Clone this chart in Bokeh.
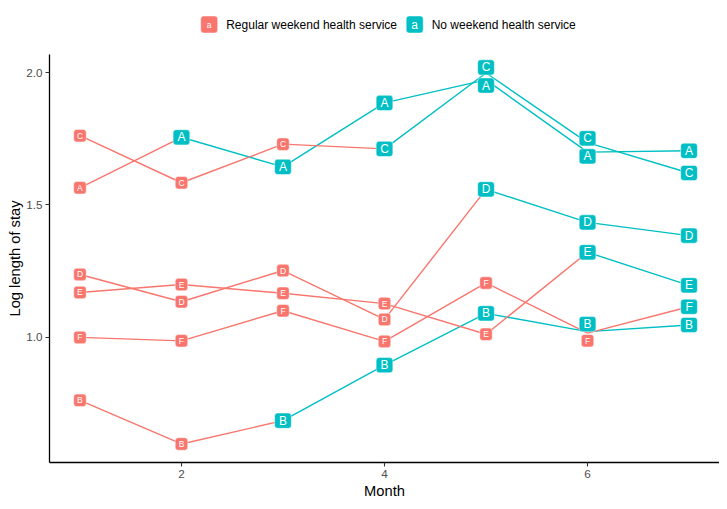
import numpy as np
from bokeh.plotting import figure
from bokeh.layouts import column
from bokeh.models import Range1d, FixedTicker, ColumnDataSource
from bokeh.embed import file_html
from bokeh.resources import INLINE
from bokeh.core.properties import value

# ---------------- data ----------------
months = [1, 2, 3, 4, 5, 6, 7]
hospitals = ["A", "B", "C", "D", "E", "F"]
los_A = [1.565, 1.756, 1.644, 1.886, 1.973, 1.700, 1.705]
los_B = [0.761, 0.596, 0.684, 0.894, 1.090, 1.021, 1.046]
los_C = [1.762, 1.584, 1.730, 1.712, 1.999, 1.736, 1.621]
los_D = [1.237, 1.134, 1.252, 1.067, 1.559, 1.434, 1.384]
los_E = [1.169, 1.199, 1.166, 1.127, 1.011, 1.321, 1.196]
los_F = [0.999, 0.986, 1.100, 0.984, 1.205, 1.015, 1.115]
# month from which each hospital has no weekend health service
no_service_from = [2, 3, 4, 5, 6, 7]
group_names = ["Regular weekend health service", "No weekend health service"]
x_ticks = [2, 4, 6]
y_ticks = [1.0, 1.5, 2.0]
y_tick_labels = ["1.0", "1.5", "2.0"]
x_title = "Month"
y_title = "Log length of stay"

series = [los_A, los_B, los_C, los_D, los_E, los_F]

# ---------------- style ----------------
FONT = "Liberation Sans"
COLS = ["#F8766D", "#00BFC4"]
BOX_W = [12.5, 16.7]
BOX_H = [12.5, 15.2]
TXT_SIZE = ["8.5px", "12px"]

W, H_LEG, H_MAIN = 719, 54, 447
MB_LEFT, MB_BOTTOM = 49, 36
frame_h = H_MAIN - MB_BOTTOM

# ggplot-like 5% expansion
xs = np.array(months, dtype=float)
allv = np.array(series).ravel()
xpad = 0.05 * (xs.max() - xs.min())
ypad = 0.05 * (allv.max() - allv.min())
x0r, x1r = xs.min() - xpad, xs.max() + xpad
y0r, y1r = allv.min() - ypad, allv.max() + ypad
ppu = frame_h / (y1r - y0r)

def group_of(h, m):
    return 1 if m >= no_service_from[h] else 0

p = figure(width=W, height=H_MAIN, x_range=Range1d(x0r, x1r), y_range=Range1d(y0r, y1r),
           output_backend="svg", toolbar_location=None,
           min_border_left=MB_LEFT, min_border_right=0, min_border_top=0,
           min_border_bottom=MB_BOTTOM)
p.frame_align = False
p.grid.visible = False
p.outline_line_color = None

# line segments, coloured by the group at the starting month
seg = dict(x0=[], y0=[], x1=[], y1=[], c=[])
for h, vals in enumerate(series):
    for i in range(len(months) - 1):
        seg["x0"].append(months[i]); seg["y0"].append(vals[i])
        seg["x1"].append(months[i + 1]); seg["y1"].append(vals[i + 1])
        seg["c"].append(COLS[group_of(h, months[i])])
p.segment(x0="x0", y0="y0", x1="x1", y1="y1", color="c", line_width=1.4,
          source=ColumnDataSource(seg))

# simple label repel per month (vertical only)
lab = {0: dict(x=[], y=[], t=[]), 1: dict(x=[], y=[], t=[])}
for i, m in enumerate(months):
    items = []
    for h, vals in enumerate(series):
        g = group_of(h, m)
        items.append([(vals[i] - y0r) * ppu, BOX_H[g], h, g])
    items.sort(key=lambda it: it[0])
    for _ in range(60):
        for a in range(len(items) - 1):
            lo, hi = items[a], items[a + 1]
            need = (lo[1] + hi[1]) / 2 + 3.0
            ov = need - (hi[0] - lo[0])
            if ov > 0:
                lo[0] -= ov / 2
                hi[0] += ov / 2
    for py, bh, h, g in items:
        lab[g]["x"].append(m)
        lab[g]["y"].append(y0r + py / ppu)
        lab[g]["t"].append(hospitals[h])

for g in (0, 1):
    src = ColumnDataSource(lab[g])
    p.rect(x="x", y="y", width=BOX_W[g], height=BOX_H[g], width_units="screen",
           height_units="screen", fill_color=COLS[g], line_color="white",
           line_alpha=0.6, line_width=0.8, border_radius=3, source=src)
    p.text(x="x", y="y", text="t", text_color="white", text_font=value(FONT),
           text_font_size=TXT_SIZE[g], text_align="center", text_baseline="middle",
           source=src)

# axes
for ax in (p.xaxis[0], p.yaxis[0]):
    ax.axis_line_color = "black"
    ax.axis_line_width = 1.3
    ax.major_tick_line_color = "#333333"
    ax.major_tick_line_width = 1.1
    ax.major_tick_out = 4
    ax.major_tick_in = 0
    ax.minor_tick_line_color = None
    ax.major_label_text_color = "#4D4D4D"
    ax.major_label_text_font = FONT
    ax.major_label_text_font_size = "11.7px"
    ax.axis_label_text_font = FONT
    ax.axis_label_text_font_size = "14.7px"
    ax.axis_label_text_font_style = "normal"
    ax.axis_label_text_color = "black"
    ax.major_label_standoff = 3
    ax.axis_label_standoff = 2
p.yaxis[0].axis_label_standoff = 0

p.xaxis[0].ticker = FixedTicker(ticks=x_ticks)
p.yaxis[0].ticker = FixedTicker(ticks=y_ticks)
p.yaxis[0].major_label_overrides = {t: s for t, s in zip(y_ticks, y_tick_labels)}
p.xaxis[0].axis_label = x_title
p.yaxis[0].axis_label = y_title

# ---------------- legend strip ----------------
leg = figure(width=W, height=H_LEG, x_range=Range1d(0, W), y_range=Range1d(H_LEG, 0),
             output_backend="svg", toolbar_location=None,
             x_axis_location=None, y_axis_location=None,
             min_border=0, min_border_left=0, min_border_right=0,
             min_border_top=0, min_border_bottom=0)
leg.frame_align = False
leg.grid.visible = False
leg.outline_line_color = None

key_x = [208.7, 414.2]
key_y = 24
leg.rect(x=key_x, y=[key_y, key_y], width=17, height=17, width_units="screen",
         height_units="screen", fill_color=COLS, line_color="white", line_alpha=0.6,
         line_width=0.8, border_radius=3)
for g in (0, 1):
    leg.text(x=[key_x[g]], y=[key_y], text=["a"], text_color="white",
             text_font=value(FONT), text_font_size=TXT_SIZE[g],
             text_align="center", text_baseline="middle")
    leg.text(x=[key_x[g] + 17], y=[key_y], text=[group_names[g]], text_color="black",
             text_font=value(FONT), text_font_size="12px",
             text_align="left", text_baseline="middle")

layout = column(leg, p, spacing=0)
open("out.html", "w").write(file_html(layout, INLINE))
